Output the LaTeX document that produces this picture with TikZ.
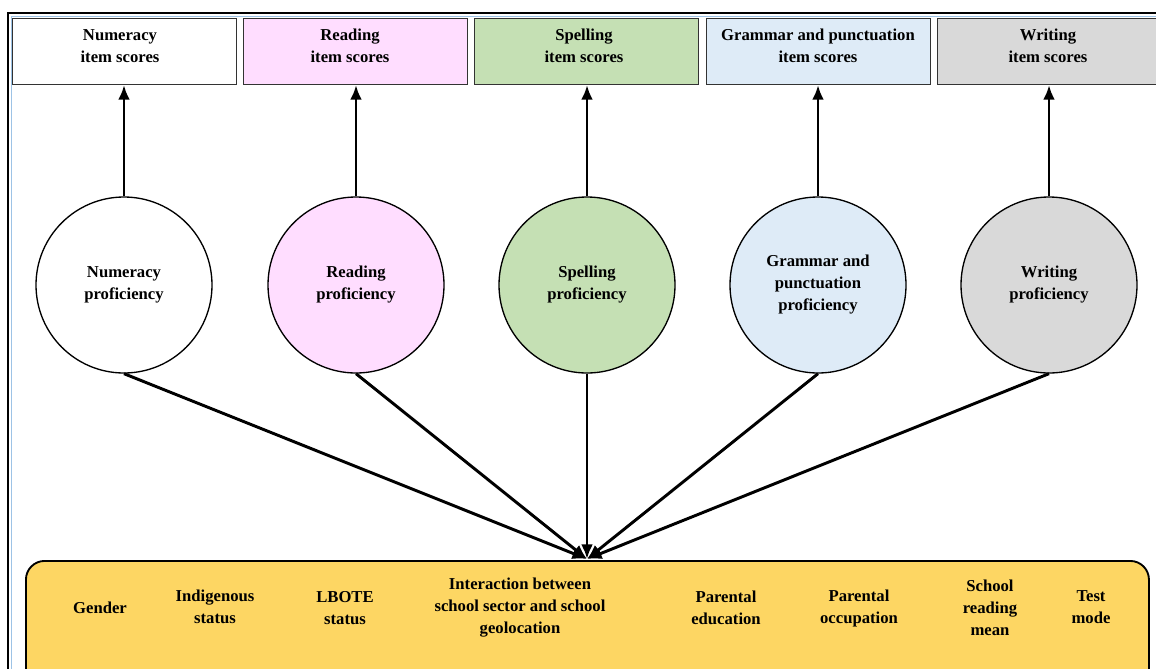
\documentclass[tikz,border=0pt]{standalone}
\usepackage{fontspec}
\setmainfont{Liberation Serif}
\usetikzlibrary{arrows.meta}
\definecolor{cread}{HTML}{FFDDFF}
\definecolor{cspell}{HTML}{C5E0B4}
\definecolor{cgram}{HTML}{DEEBF7}
\definecolor{cwrite}{HTML}{D9D9D9}
\definecolor{cbot}{HTML}{FDD663}
\definecolor{cblue}{HTML}{9DC3E6}
\tikzset{
  scorebox/.style={draw=black!80, line width=0.8pt, minimum width=224*0.75pt, minimum height=66*0.75pt, anchor=north west, inner sep=0pt},
  prof/.style={circle, draw=black, line width=1pt, minimum size=176*0.75pt, inner sep=0pt},
  lbl/.style={font=\bfseries\fontsize{12.5}{16.5}\selectfont, align=center},
  arr/.style={line width=2.2pt, -{Latex[length=11pt,width=9pt]}},
}
\begin{document}
\begin{tikzpicture}[x=0.75pt,y=-0.75pt]
\useasboundingbox (0,0) rectangle (1156,668);
\clip (0,0) rectangle (1156,668);
\draw[line width=1.6pt] (8,13) rectangle (1170,690);
\draw[cblue, line width=0.6pt] (11,16) rectangle (1167,687);
% top boxes
\node[scorebox, fill=white] (b1) at (12,18) {};
\node[scorebox, fill=cread] (b2) at (243,18) {};
\node[scorebox, fill=cspell] (b3) at (474,18) {};
\node[scorebox, fill=cgram] (b4) at (706,18) {};
\node[scorebox, fill=cwrite] (b5) at (937,18) {};
\node[lbl] (t1) at (120,46) {Numeracy\\item scores};
\node[lbl] (t2) at (350,46) {Reading\\item scores};
\node[lbl] (t3) at (584,46) {Spelling\\item scores};
\node[lbl] (t4) at (818,46) {Grammar and punctuation\\item scores};
\node[lbl] (t5) at (1048,46) {Writing\\item scores};
% circles
\node[prof, fill=white] (c1) at (124,285) {};
\node[prof, fill=cread] (c2) at (356,285) {};
\node[prof, fill=cspell] (c3) at (587,285) {};
\node[prof, fill=cgram] (c4) at (818,285) {};
\node[prof, fill=cwrite] (c5) at (1049,285) {};
\node[lbl] at (c1) {Numeracy\\proficiency};
\node[lbl] at (c2) {Reading\\proficiency};
\node[lbl] at (c3) {Spelling\\proficiency};
\node[lbl] at (c4) {Grammar and\\punctuation\\proficiency};
\node[lbl] at (c5) {Writing\\proficiency};
% up arrows
\draw[arr] (c1.north) -- (c1.north |- b1.south);
\draw[arr] (c2.north) -- (c2.north |- b2.south);
\draw[arr] (c3.north) -- (c3.north |- b3.south);
\draw[arr] (c4.north) -- (c4.north |- b4.south);
\draw[arr] (c5.north) -- (c5.north |- b5.south);
% bottom box
\node[draw=black, line width=1.4pt, fill=cbot, rounded corners=14pt, minimum width=1123*0.75pt, minimum height=130*0.75pt, anchor=north west, inner sep=0pt] (bot) at (25,560) {};
\coordinate (tip) at (587,559);
\draw[arr] (c1.south) -- (tip);
\draw[arr] (c2.south) -- (tip);
\draw[arr] (c3.south) -- (tip);
\draw[arr] (c4.south) -- (tip);
\draw[arr] (c5.south) -- (tip);
% labels
\node[lbl] (g1) at (100,608) {Gender};
\node[lbl] (g2) at (215,607) {Indigenous\\status};
\node[lbl] (g3) at (345,608) {LBOTE\\status};
\node[lbl] (g4) at (520,608) {Interaction between\\school sector and school\\geolocation};
\node[lbl] (g5) at (726,608) {Parental\\education};
\node[lbl] (g6) at (859,608) {Parental\\occupation};
\node[lbl] (g7) at (990,608) {School\\reading\\mean};
\node[lbl] (g8) at (1091,607) {Test\\mode};
\end{tikzpicture}
\end{document}
